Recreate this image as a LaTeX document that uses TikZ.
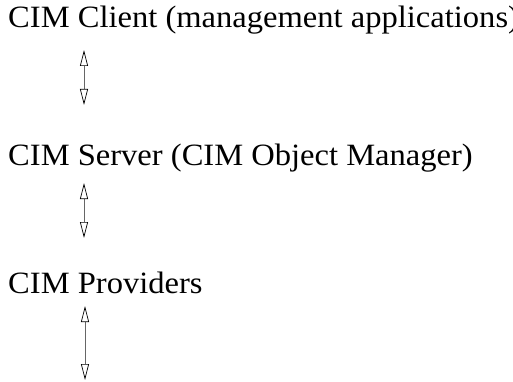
\documentclass[tikz,border=0pt]{standalone}
\usepackage{fontspec}
\setmainfont{Liberation Serif}
\usetikzlibrary{arrows.meta}
\begin{document}
\begin{tikzpicture}[x=1pt,y=1pt,
  lbl/.style={anchor=base west,inner sep=0pt,font=\fontsize{31}{36}\selectfont,xscale=1.05},
  conn/.style={draw=black!60,line width=0.9pt,
    {Triangle[open,length=16pt,width=8pt,line width=0.7pt,color=black,fill=white]}-{Triangle[open,length=16pt,width=8pt,line width=0.7pt,color=black,fill=white]}}]
\useasboundingbox (0,0) rectangle (513,-382);
\node[lbl] (client) at (8,-28) {CIM Client (management applications)};
\node[lbl] (server) at (8,-165) {CIM Server (CIM Object Manager)};
\node[lbl] (prov) at (8,-293) {CIM Providers};
\coordinate (a1t) at (84,-50);
\coordinate (a1b) at (84,-105);
\coordinate (a2t) at (84,-183);
\coordinate (a2b) at (84,-238);
\coordinate (a3t) at (85,-306);
\coordinate (a3b) at (85,-380);
\draw[conn] (a1t) -- (a1b);
\draw[conn] (a2t) -- (a2b);
\draw[conn] (a3t) -- (a3b);
\end{tikzpicture}
\end{document}
